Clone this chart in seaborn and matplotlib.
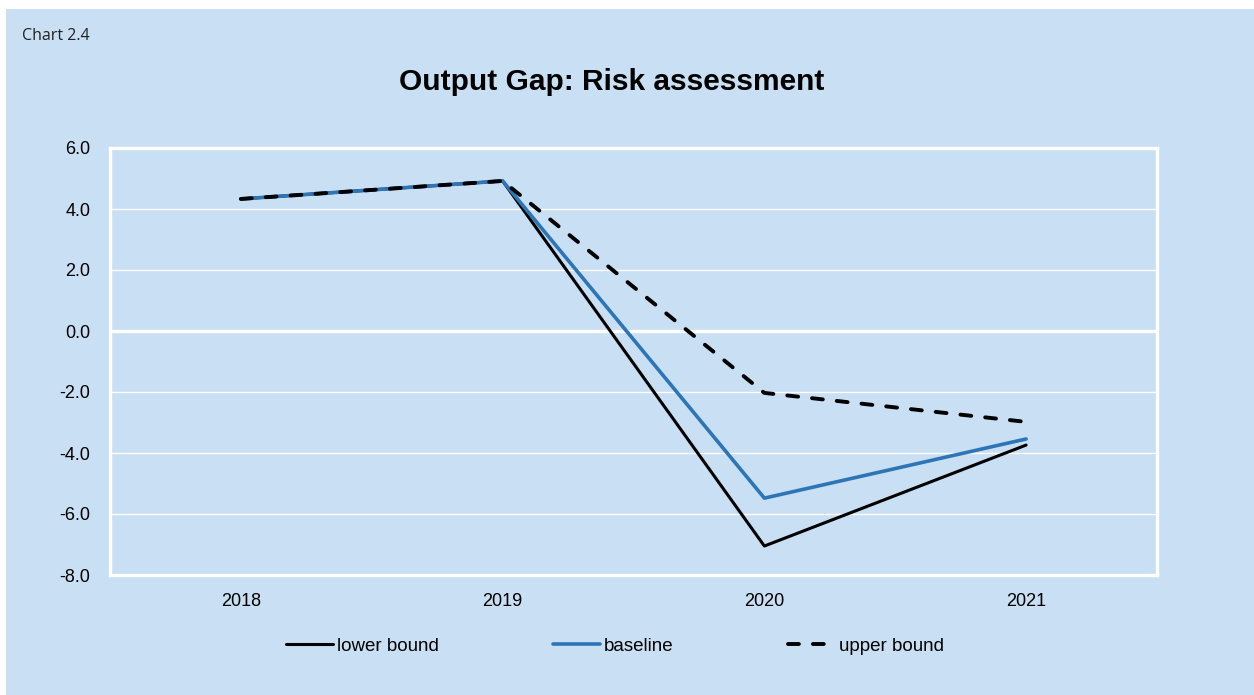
import pandas as pd
import matplotlib.pyplot as plt
import seaborn as sns
from matplotlib.patches import Rectangle

# 資料
years = ["2018", "2019", "2020", "2021"]
lower_bound = [4.33, 4.92, -7.05, -3.74]
baseline = [4.33, 4.92, -5.48, -3.54]
upper_bound = [4.33, 4.92, -2.03, -2.98]
y_ticks = [6.0, 4.0, 2.0, 0.0, -2.0, -4.0, -6.0, -8.0]

bg = "#C9DFF3"
blue = "#2E75B6"

sns.set_theme(style="white")
plt.rcParams['font.family'] = ['Liberation Sans', 'DejaVu Sans']
plt.rcParams['text.color'] = 'black'

fig = plt.figure(figsize=(12.54, 6.95), dpi=100)
fig.patch.set_facecolor("white")
# 淺藍色背景（上方與左側留白）
fig.patches.append(Rectangle((6 / 1254, 0), 1 - 6 / 1254, 1 - 9 / 695,
                             transform=fig.transFigure, facecolor=bg,
                             edgecolor="none", zorder=-10))

ax = fig.add_axes([110 / 1254, 1 - 575 / 695, 1047 / 1254, 427 / 695])
ax.set_facecolor(bg)

df_low = pd.DataFrame({"year": years, "value": lower_bound})
df_base = pd.DataFrame({"year": years, "value": baseline})
df_up = pd.DataFrame({"year": years, "value": upper_bound})

sns.lineplot(data=df_low, x="year", y="value", ax=ax, color="black",
             linewidth=2.2, label="lower bound", sort=False)
sns.lineplot(data=df_base, x="year", y="value", ax=ax, color=blue,
             linewidth=2.6, label="baseline", sort=False)
sns.lineplot(data=df_up, x="year", y="value", ax=ax, color="black",
             linewidth=2.8, label="upper bound", sort=False)
up_line = ax.get_lines()[-1]
up_line.set_dashes((2.8, 3.6))
up_line.set_dash_capstyle("round")

ax.set_xlim(-0.5, 3.5)
ax.set_ylim(-8, 6)
ax.set_yticks(y_ticks)
ax.set_yticklabels([f"{v:.1f}" for v in y_ticks])

# 格線
for v in y_ticks:
    lw = 2.4 if v == 0 else 1.0
    ax.axhline(v, color="white", linewidth=lw, zorder=0.5)

for s in ax.spines.values():
    s.set_color("white")
    s.set_linewidth(2.4)

ax.tick_params(axis="both", length=0, labelsize=13, colors="black")
ax.tick_params(axis="y", pad=14)
ax.tick_params(axis="x", pad=13)
ax.set_xlabel("")
ax.set_ylabel("")

ax.get_legend().remove()
handles, labels = ax.get_legend_handles_labels()
leg = fig.legend(handles, labels, loc="center", bbox_to_anchor=(615 / 1254, 1 - 646 / 695),
                 ncol=3, frameon=False, fontsize=13.5, handlelength=2.5,
                 handletextpad=0.2, columnspacing=6.1)
for t in leg.get_texts():
    t.set_color("black")

fig.text(612 / 1254, 1 - 82 / 695, "Output Gap: Risk assessment", ha="center",
         va="center", fontsize=21.5, fontweight="bold", color="black")
fig.text(22 / 1254, 1 - 36 / 695, "Chart 2.4", ha="left", va="center",
         fontsize=11.5, family=["Open Sans", "DejaVu Sans"], color="#222222")

fig.savefig("out.png", dpi=100, facecolor=fig.get_facecolor())
